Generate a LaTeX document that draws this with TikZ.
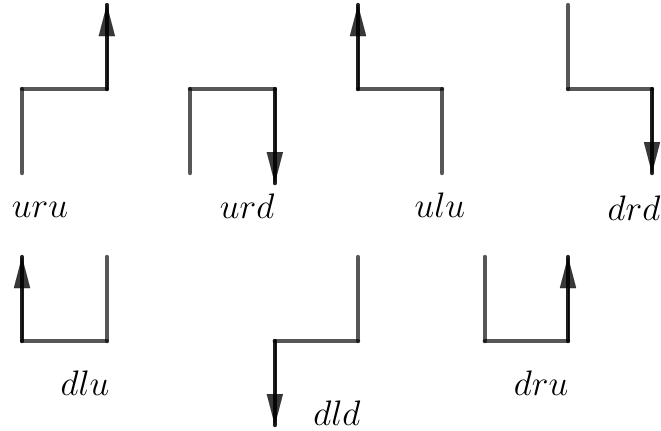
\documentclass[tikz,border=0pt]{standalone}
\usetikzlibrary{arrows.meta}
\begin{document}
\begin{tikzpicture}[
  seg/.style={line width=1.5pt, line cap=round, draw=black, opacity=0.66},
  lastseg/.style={line width=1.5pt, line cap=round, draw=black, opacity=0.88},
  headtip/.style={line width=0.01pt, draw=black, fill=black, opacity=0.78, -{Triangle[length=10.5pt,width=5.5pt]}},
  lbl/.style={anchor=base, font=\fontsize{11.5}{14}\selectfont, inner sep=0pt}
]
\useasboundingbox (-0.262,-0.06) rectangle (7.607,5.06);
% uru
\coordinate (a1) at (0,3); \coordinate (a2) at (0,4); \coordinate (a3) at (1.01,4); \coordinate (a4) at (1.01,5);
\draw[seg] (a1) -- (a2); \draw[seg] (a2) -- (a3); \draw[lastseg] (a3) -- (a4); \draw[headtip] (a3) -- (a4);
\node[lbl] (luru) at (0.214,2.476) {$uru$};
% urd
\coordinate (b1) at (2,3); \coordinate (b2) at (2,4); \coordinate (b3) at (3.01,4); \coordinate (b4) at (3.01,2.88);
\draw[seg] (b1) -- (b2); \draw[seg] (b2) -- (b3); \draw[lastseg] (b3) -- (b4); \draw[headtip] (b3) -- (b4);
\node[lbl] (lurd) at (2.68,2.464) {$urd$};
% ulu
\coordinate (c1) at (5,3); \coordinate (c2) at (5,4); \coordinate (c3) at (4,4); \coordinate (c4) at (4,5);
\draw[seg] (c1) -- (c2); \draw[seg] (c2) -- (c3); \draw[lastseg] (c3) -- (c4); \draw[headtip] (c3) -- (c4);
\node[lbl] (lulu) at (4.976,2.476) {$ulu$};
% drd
\coordinate (d1) at (6.5,5); \coordinate (d2) at (6.5,4); \coordinate (d3) at (7.5,4); \coordinate (d4) at (7.5,3);
\draw[seg] (d1) -- (d2); \draw[seg] (d2) -- (d3); \draw[lastseg] (d3) -- (d4); \draw[headtip] (d3) -- (d4);
\node[lbl] (ldrd) at (7.286,2.44) {$drd$};
% dlu
\coordinate (e1) at (1.01,2); \coordinate (e2) at (1.01,1); \coordinate (e3) at (0,1); \coordinate (e4) at (0,2);
\draw[seg] (e1) -- (e2); \draw[seg] (e2) -- (e3); \draw[lastseg] (e3) -- (e4); \draw[headtip] (e3) -- (e4);
\node[lbl] (ldlu) at (0.75,0.357) {$dlu$};
% dld
\coordinate (f1) at (4,2); \coordinate (f2) at (4,1); \coordinate (f3) at (3.01,1); \coordinate (f4) at (3.01,0);
\draw[seg] (f1) -- (f2); \draw[seg] (f2) -- (f3); \draw[lastseg] (f3) -- (f4); \draw[headtip] (f3) -- (f4);
\node[lbl] (ldld) at (3.75,0.0) {$dld$};
% dru
\coordinate (g1) at (5.51,2); \coordinate (g2) at (5.51,1); \coordinate (g3) at (6.5,1); \coordinate (g4) at (6.5,2);
\draw[seg] (g1) -- (g2); \draw[seg] (g2) -- (g3); \draw[lastseg] (g3) -- (g4); \draw[headtip] (g3) -- (g4);
\node[lbl] (ldru) at (6.18,0.357) {$dru$};
\end{tikzpicture}
\end{document}
